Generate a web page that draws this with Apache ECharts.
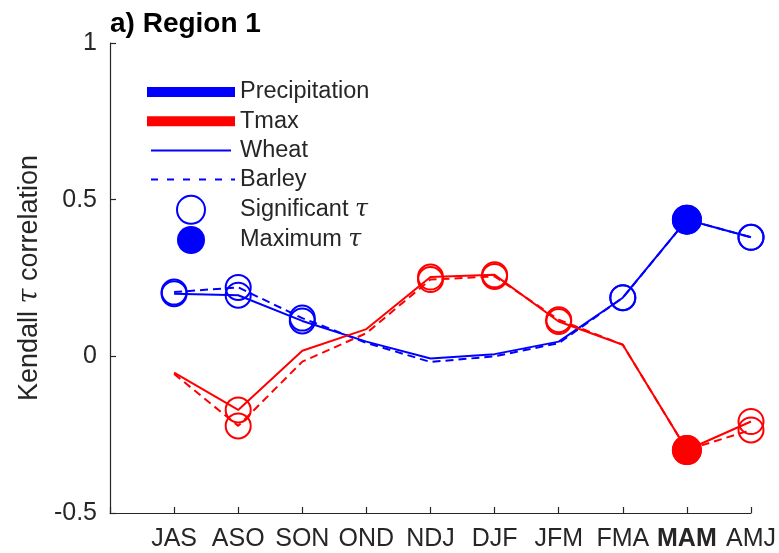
<!DOCTYPE html>
<html><head><meta charset="utf-8">
<script src="https://cdn.jsdelivr.net/npm/echarts@6/dist/echarts.min.js"></script>
<style>html,body{margin:0;padding:0;background:#fff}#c{width:779px;height:553px}</style>
</head><body><div id="c"></div>
<script>
// ---- data ----
const categories = ['JAS','ASO','SON','OND','NDJ','DJF','JFM','FMA','MAM','AMJ'];
const highlightCategory = 'MAM';
const yTickLabels = {'-0.5':'-0.5','0':'0','0.5':'0.5','1':'1'};

const precipWheat  = [0.200, 0.195, 0.113, 0.047, -0.007, 0.007, 0.047, 0.187, 0.436, 0.380];
const precipBarley = [0.205, 0.220, 0.122, 0.043, -0.018, 0.000, 0.042, 0.187, 0.436, 0.380];
const tmaxWheat    = [-0.052, -0.171, 0.018, 0.087, 0.253, 0.260, 0.111, 0.037, -0.299, -0.208];
const tmaxBarley   = [-0.056, -0.222, -0.017, 0.074, 0.245, 0.255, 0.117, 0.037, -0.299, -0.235];

// 0 = not significant, 1 = significant, 2 = maximum
const precipWheatSig  = [1,1,1,0,0,0,0,1,2,1];
const precipBarleySig = [1,1,1,0,0,0,0,1,2,1];
const tmaxWheatSig    = [0,1,0,0,1,1,1,0,2,1];
const tmaxBarleySig   = [0,1,0,0,1,1,1,0,2,1];

// ---- styling ----
const BLUE = '#0000ff', RED = '#ff0000', INK = '#262626';
const FONT = '"Liberation Sans", Arial, Helvetica, sans-serif';
const TAU = {fontStyle:'italic', fontFamily:'"DejaVu Serif", "Liberation Serif", serif'};

function buildData(values, sig, color) {
  return values.map((v, i) => {
    const item = {value: [i + 1, v]};
    if (sig[i] === 1) {
      item.symbol = 'circle'; item.symbolSize = 25;
      item.itemStyle = {color: 'rgba(0,0,0,0)', borderColor: color, borderWidth: 2};
    } else if (sig[i] === 2) {
      item.symbol = 'circle'; item.symbolSize = 30;
      item.itemStyle = {color: color, borderWidth: 0};
    } else {
      item.symbol = 'none';
    }
    return item;
  });
}
function lineSeries(name, values, sig, color, dashed) {
  return {
    name: name, type: 'line', data: buildData(values, sig, color),
    color: color, showSymbol: true, silent: true,
    lineStyle: {color: color, width: 2, type: dashed ? [8, 5] : 'solid'},
    emphasis: {disabled: true}, z: 3
  };
}
function dummy(name, color) {
  return {name: name, type: 'line', data: [], color: color, silent: true};
}

const dashPath = 'path://M0,0M88,2M4,0h7v2h-7zM20,0h7v2h-7zM36,0h7v2h-7zM52,0h7v2h-7zM68,0h7v2h-7zM84,0h4v2h-4z';

const chart = echarts.init(document.getElementById('c'), null, {renderer: 'canvas'});
chart.setOption({
  animation: false,
  backgroundColor: '#fff',
  title: {
    text: 'a) Region 1', left: 105, top: 5,
    textStyle: {fontSize: 28, fontWeight: 'bold', color: '#000', fontFamily: FONT}
  },
  grid: {left: 110, right: 27, top: 43, bottom: 40, containLabel: false},
  xAxis: {
    type: 'value', min: 0, max: 10, interval: 1,
    axisLine: {show: true, onZero: false, lineStyle: {color: INK, width: 1.2}},
    axisTick: {show: true, inside: true, length: 6, lineStyle: {color: INK, width: 1.2}},
    splitLine: {show: false},
    axisLabel: {
      margin: 14, color: INK, fontSize: 25, fontFamily: FONT,
      formatter: function (v) {
        const i = Math.round(v) - 1;
        if (i < 0 || i >= categories.length) return '';
        const c = categories[i];
        return c === highlightCategory ? '{b|' + c + '}' : c;
      },
      rich: {b: {fontWeight: 'bold', fontSize: 25, color: INK, fontFamily: FONT}}
    }
  },
  yAxis: {
    type: 'value', min: -0.5, max: 1, interval: 0.5,
    axisLine: {show: true, onZero: false, lineStyle: {color: INK, width: 1.2}},
    axisTick: {show: true, inside: true, length: 6, lineStyle: {color: INK, width: 1.2}},
    splitLine: {show: false},
    axisLabel: {
      margin: 13, color: INK, fontSize: 25, fontFamily: FONT,
      formatter: function (v) { const k = String(Math.round(v * 10) / 10); return yTickLabels[k] !== undefined ? yTickLabels[k] : k; }
    },
    name: '{a|Kendall }{t|τ}{a| correlation}',
    nameLocation: 'middle', nameRotate: 90, nameGap: 66,
    nameTextStyle: {
      color: INK, fontSize: 27, fontFamily: FONT,
      rich: {a: {fontSize: 27, color: INK, fontFamily: FONT}, t: Object.assign({fontSize: 27, color: INK}, TAU)}
    }
  },
  legend: {
    orient: 'vertical', left: 142, top: 73,
    itemWidth: 88, itemHeight: 28, itemGap: 1.2,
    selectedMode: false,
    textStyle: {
      fontSize: 23.5, color: INK, fontFamily: FONT, lineHeight: 28,
      rich: {t: Object.assign({fontSize: 23.5, color: INK, lineHeight: 28}, TAU)}
    },
    formatter: function (name) { return name.replace('τ', '{t|τ}'); },
    data: [
      {name: 'Precipitation', icon: 'path://M0,0h88v10h-88z', itemStyle: {color: BLUE, borderWidth: 0}},
      {name: 'Tmax', icon: 'path://M0,0h88v10h-88z', itemStyle: {color: RED, borderWidth: 0}},
      {name: 'Wheat', icon: 'path://M0,0M88,2M4,0h80v2h-80z', itemStyle: {color: BLUE, borderWidth: 0}},
      {name: 'Barley', icon: dashPath, itemStyle: {color: BLUE, borderWidth: 0}},
      {name: 'Significant τ', icon: 'circle', itemStyle: {color: 'rgba(0,0,0,0)', borderColor: BLUE, borderWidth: 2}},
      {name: 'Maximum τ', icon: 'circle', itemStyle: {color: BLUE, borderWidth: 0}}
    ]
  },
  series: [
    lineSeries('P-Wheat', precipWheat, precipWheatSig, BLUE, false),
    lineSeries('P-Barley', precipBarley, precipBarleySig, BLUE, true),
    lineSeries('T-Wheat', tmaxWheat, tmaxWheatSig, RED, false),
    lineSeries('T-Barley', tmaxBarley, tmaxBarleySig, RED, true),
    dummy('Precipitation', BLUE), dummy('Tmax', RED), dummy('Wheat', BLUE),
    dummy('Barley', BLUE), dummy('Significant τ', BLUE), dummy('Maximum τ', BLUE)
  ]
});
</script>
</body></html>
